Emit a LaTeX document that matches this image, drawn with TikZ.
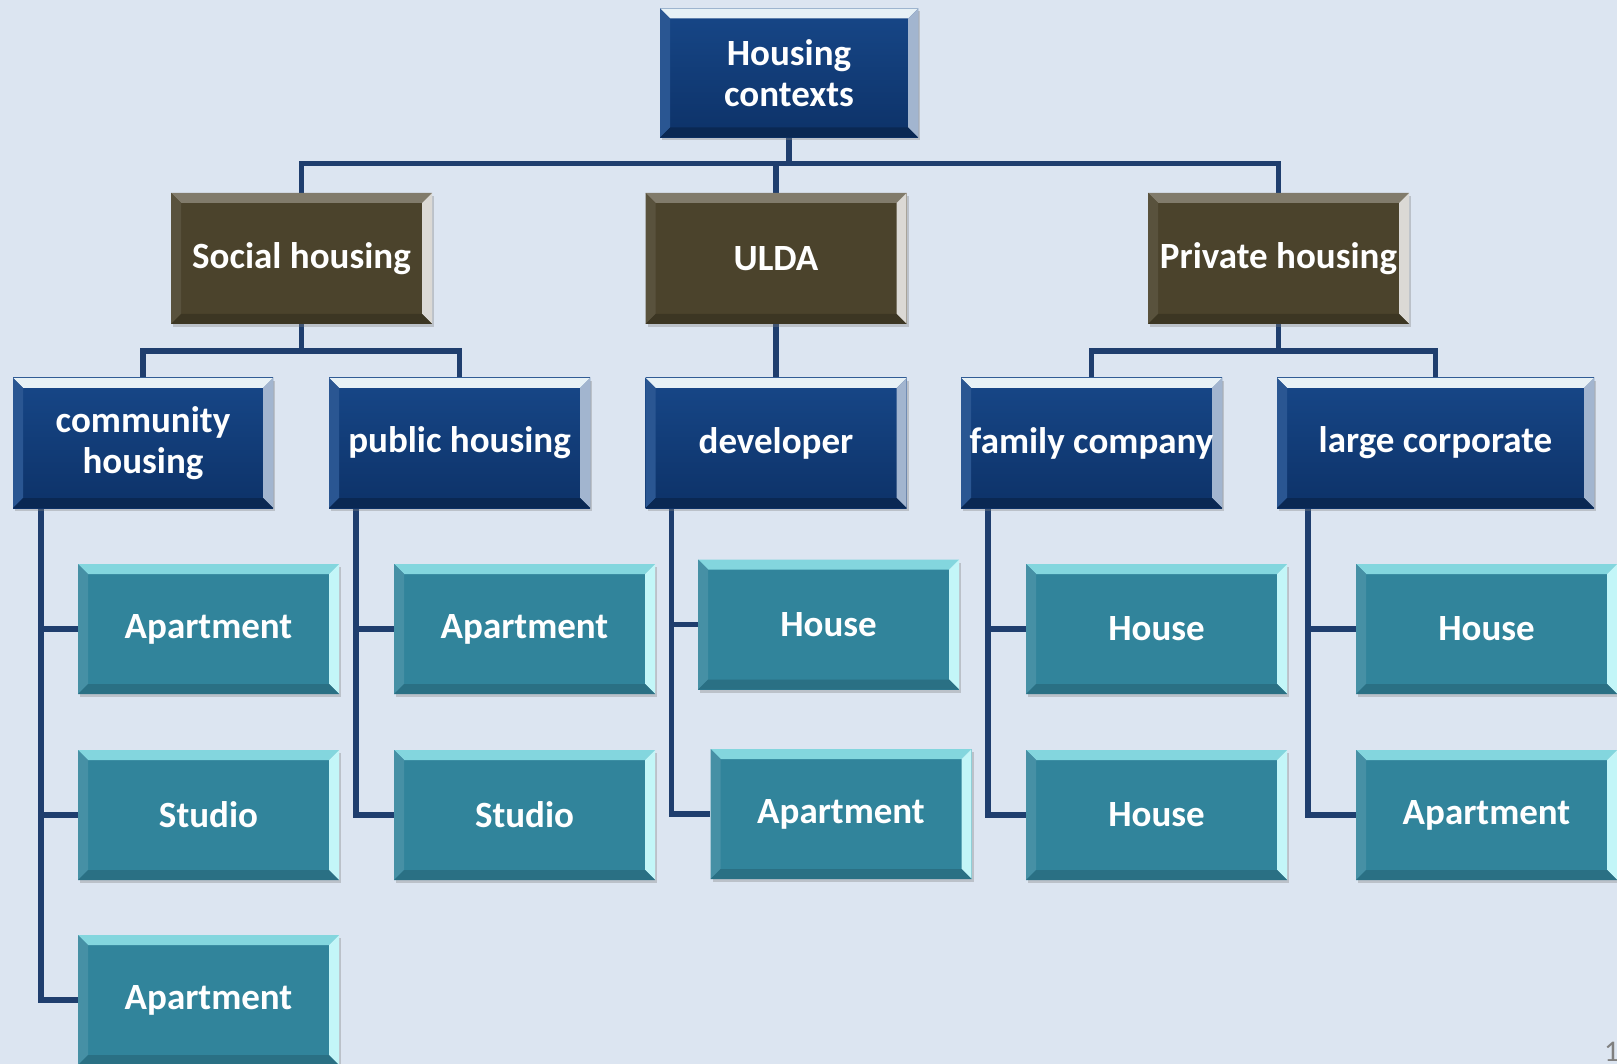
\documentclass[tikz,border=0pt]{standalone}
\usepackage{fontspec}
\setmainfont{Carlito}
\usetikzlibrary{shadows}
\usetikzlibrary{backgrounds}
\definecolor{slidebg}{HTML}{DCE5F1}
\definecolor{linkblue}{HTML}{1F3E6E}
\definecolor{navymain}{HTML}{174788}
\definecolor{navylow}{HTML}{0D3268}
\definecolor{olivemain}{HTML}{4B432C}
\definecolor{tealmain}{HTML}{31849B}
\tikzset{x=1pt,y=-1pt, % one unit is one pixel of the slide
bevel/.style n args={4}{ % top, left, right and bottom edge of the box
path picture={
  \path (path picture bounding box.north west) coordinate (bvA)
        (path picture bounding box.north east) coordinate (bvB)
        (path picture bounding box.south east) coordinate (bvC)
        (path picture bounding box.south west) coordinate (bvD);
  \fill[#1] (bvA) -- (bvB) -- ([shift={(-10,10)}]bvB) -- ([shift={(10,10)}]bvA) -- cycle;
  \fill[#2] (bvA) -- (bvD) -- ([shift={(10,-10)}]bvD) -- ([shift={(10,10)}]bvA) -- cycle;
  \fill[#3] (bvB) -- (bvC) -- ([shift={(-10,-10)}]bvC) -- ([shift={(-10,10)}]bvB) -- cycle;
  \fill[#4] (bvD) -- (bvC) -- ([shift={(-10,-10)}]bvC) -- ([shift={(10,-10)}]bvD) -- cycle;
}},
box/.style={ % Common look of every box
rectangle,
minimum width=261pt,
minimum height=130pt,
inner sep=2pt,
align=center,
text=white,
font=\fontsize{37}{41}\selectfont\bfseries,
drop shadow={shadow xshift=2pt,shadow yshift=-3pt,opacity=.35}},
headbox/.style={box, % dark blue boxes
top color=navymain, bottom color=navylow,
bevel={fill=black!0!blue!0!white!0!navymain!75!cyan!40!white!25}{fill=navymain!92!white}{fill=navymain!40!white}{fill=navylow!80!black}},
groupbox/.style={box, % olive boxes
fill=olivemain,
bevel={fill=olivemain!70!white}{fill=olivemain!92!white}{fill=olivemain!20!white}{fill=olivemain!80!black}},
leafbox/.style={box, % teal boxes
fill=tealmain,
bevel={fill=tealmain!60!cyan!55!white}{fill=tealmain!90!white}{fill=tealmain!30!cyan!25!white}{fill=tealmain!85!black}},
link/.style={ % Connectors of the tree
draw=linkblue,
line width=5.5pt}}

\begin{document}
\begin{tikzpicture}
  \useasboundingbox (0,0) rectangle (1617,1064);
  % level 1
  \node[headbox, minimum width=258pt, minimum height=129pt] (top) at (789,73) {Housing\\contexts};
  % level 2
  \node[groupbox, minimum height=131pt] (soc)  at (301.5,258.5)  {Social housing};
  \node[groupbox, minimum height=131pt] (ulda) at (776,258.5)    {ULDA};
  \node[groupbox, minimum height=131pt] (priv) at (1278.5,258.5) {Private housing};
  % level 3
  \node[headbox, minimum width=260pt] (comm)  at (143,443)    {community\\housing};
  \node[headbox]                      (pub)   at (459.5,443)  {public housing};
  \node[headbox]                      (dev)   at (776,443)    {developer};
  \node[headbox]                      (fam)   at (1091.5,443) {family company};
  \node[headbox, minimum width=317pt] (large) at (1435.5,443) {large corporate};
  % level 4
  \node[leafbox] (c1) at (208.5,629)  {Apartment};
  \node[leafbox] (c2) at (208.5,815)  {Studio};
  \node[leafbox] (c3) at (208.5,1000) {Apartment};
  \node[leafbox] (p1) at (524.5,629)  {Apartment};
  \node[leafbox] (p2) at (524.5,815)  {Studio};
  \node[leafbox] (d1) at (828.5,624.5) {House};
  \node[leafbox] (d2) at (841,814)    {Apartment};
  \node[leafbox] (f1) at (1156.5,629) {House};
  \node[leafbox] (f2) at (1156.5,815) {House};
  \node[leafbox] (l1) at (1486.5,629) {House};
  \node[leafbox] (l2) at (1486.5,815) {Apartment};
  % slide number
  \node[text=gray, font=\fontsize{30}{30}\selectfont, anchor=west, inner sep=0pt] (pagenum) at (1604,1052) {1};
  \begin{pgfonlayer}{background}
    \fill[slidebg] (0,0) rectangle (1617,1064);
    \path[link] (top.south) -- ++(0,26) -| (soc.north)
                (top.south) -- ++(0,26) -| (ulda.north)
                (top.south) -- ++(0,26) -| (priv.north);
    \path[link] (soc.south) -- ++(0,27) -| (comm.north)
                (soc.south) -- ++(0,27) -| (pub.north)
                (ulda.south) -- (dev.north)
                (priv.south) -- ++(0,27) -| (fam.north)
                (priv.south) -- ++(0,27) -| (large.north);
    \path[link] ([xshift=28pt]comm.south west) |- (c1.west)
                ([xshift=28pt]comm.south west) |- (c2.west)
                ([xshift=28pt]comm.south west) |- (c3.west);
    \path[link] ([xshift=27pt]pub.south west) |- (p1.west)
                ([xshift=27pt]pub.south west) |- (p2.west);
    \path[link] ([xshift=26pt]dev.south west) |- (d1.west)
                ([xshift=26pt]dev.south west) |- (d2.west);
    \path[link] ([xshift=27pt]fam.south west) |- (f1.west)
                ([xshift=27pt]fam.south west) |- (f2.west);
    \path[link] ([xshift=31pt]large.south west) |- (l1.west)
                ([xshift=31pt]large.south west) |- (l2.west);
  \end{pgfonlayer}
\end{tikzpicture}
\end{document}
